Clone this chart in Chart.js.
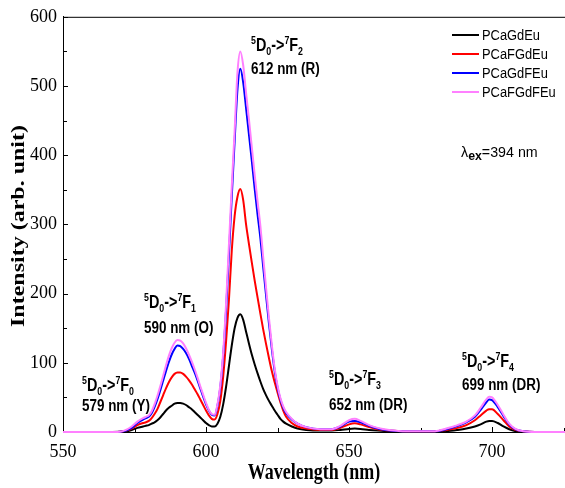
<!DOCTYPE html>
<html>
<head>
<meta charset="utf-8">
<script src="https://cdn.jsdelivr.net/npm/chart.js@4.4.1/dist/chart.umd.min.js"></script>
<style>
  html, body { margin: 0; padding: 0; background: #fff; }
</style>
</head>
<body>
<canvas id="spectrum" width="565" height="488"></canvas>
<script>
// Emission spectra (excitation 394 nm), intensity in arb. units
const wavelength = [
  550, 565, 570, 572, 574, 576, 578, 579, 580, 581,
  582, 583, 584, 585, 586, 587, 588, 589, 590, 591,
  592, 593, 594, 595, 596, 597, 598, 599, 600, 601,
  602, 603, 604, 605, 606, 607, 608, 609, 610, 611,
  612, 613, 614, 615, 616, 617, 618, 619, 620, 621,
  622, 623, 624, 625, 626, 627, 628, 630, 632, 635,
  640, 644, 647, 650, 652, 654, 657, 660, 664, 670,
  680, 684, 688, 691, 694, 696, 698, 699, 700, 702,
  704, 706, 708, 711, 715, 726
];
const pCaGdEu = [
  0, 0, 0.5, 1, 3, 6, 8, 9, 10, 12,
  14, 17, 21, 26, 31, 35, 38, 41, 42, 42,
  41, 39, 36, 33, 29, 25, 21, 17, 13, 10,
  8, 8, 12, 22, 40, 65, 95, 125, 150, 165,
  170, 162, 145, 128, 112, 98, 85, 73, 62, 53,
  45, 38, 31, 25, 19, 15, 12, 8, 5, 3,
  2, 2, 3, 4.5, 5, 4.5, 3, 2, 1, 0.5,
  0.5, 1, 3, 5, 8, 11, 15, 16, 16, 13,
  8, 4, 1.5, 0.5, 0, 0
];
const pCaFGdEu = [
  0, 0, 0.5, 2, 5, 10, 13, 14, 16, 20,
  26, 33, 43, 53, 63, 72, 79, 84, 86, 86,
  84, 80, 75, 69, 62, 55, 47, 39, 31, 24,
  19, 18, 26, 45, 80, 130, 190, 262, 312, 340,
  351, 335, 300, 272, 245, 219, 195, 171, 148, 127,
  107, 88, 72, 57, 43, 31, 22, 13, 8, 5,
  3, 3, 6, 11, 12.5, 11, 7, 4, 2, 1,
  1, 3, 6, 10, 17, 24, 31, 33, 33, 26,
  17, 8, 3, 1, 0, 0
];
const pCaGdFEu = [
  0, 0, 0.5, 2, 6, 13, 18, 20, 22, 27,
  36, 47, 60, 74, 88, 101, 112, 120, 125, 124,
  120, 114, 106, 96, 86, 75, 63, 51, 40, 31,
  25, 24, 38, 65, 110, 175, 255, 340, 420, 495,
  525, 505, 468, 430, 392, 352, 315, 280, 238, 197,
  157, 120, 88, 64, 47, 35, 27, 18, 12, 7,
  4, 4, 8, 15, 16, 14, 9, 5, 2, 1,
  1, 4, 9, 14, 22, 32, 43, 47, 46, 36,
  23, 11, 4, 1, 0, 0
];
const pCaFGdFEu = [
  0, 0, 0.5, 3, 8, 15, 20, 22, 24, 30,
  40, 52, 66, 81, 96, 110, 121, 129, 133, 132,
  128, 121, 112, 102, 91, 79, 66, 54, 42, 32,
  26, 25, 40, 68, 115, 185, 270, 355, 435, 520,
  550, 530, 490, 452, 412, 372, 334, 298, 252, 208,
  165, 126, 92, 67, 49, 37, 29, 19, 12, 7,
  4, 4, 9, 17, 19, 16, 10, 6, 3, 1,
  1, 5, 10, 15, 24, 35, 47, 51, 50, 39,
  25, 12, 5, 1, 0, 0
];
const sampleNames = ['PCaGdEu', 'PCaFGdEu', 'PCaGdFEu', 'PCaFGdFEu'];
const xTickValues = [550, 600, 650, 700];
const yTickValues = [0, 100, 200, 300, 400, 500, 600];

const colors = ['#000000', '#ff0000', '#0000ff', '#ff80ff'];
const seriesList = [pCaGdEu, pCaFGdEu, pCaGdFEu, pCaFGdFEu];

const SANS = '"Liberation Sans", Arial, sans-serif';
const SERIF = '"Liberation Serif", "Times New Roman", serif';

// draws a run of text pieces (sub/superscripts) squeezed horizontally
function drawRich(ctx, x, y, parts, squeeze) {
  ctx.save();
  ctx.translate(x, y);
  ctx.scale(squeeze, 1);
  ctx.textBaseline = 'alphabetic';
  ctx.textAlign = 'left';
  let cx = 0;
  for (const p of parts) {
    ctx.font = p.font;
    ctx.fillText(p.text, cx, p.dy || 0);
    cx += ctx.measureText(p.text).width;
  }
  ctx.restore();
}

const BIG = 'bold 18px ' + SANS;
const SMALL = 'bold 11px ' + SANS;
const LABEL = 'bold 16px ' + SANS;
const AXIS_TITLE = 'bold 24px ' + SERIF;

function term(j) {
  return [
    { text: '5', font: SMALL, dy: -7 },
    { text: 'D', font: BIG },
    { text: '0', font: SMALL, dy: 4 },
    { text: '->', font: BIG },
    { text: '7', font: SMALL, dy: -7 },
    { text: 'F', font: BIG },
    { text: j, font: SMALL, dy: 4 }
  ];
}

// transition labels: [x, baseline of term, baseline of wavelength line, J, text]
const transitions = [
  [82, 391, 411, '0', '579 nm (Y)'],
  [144, 308, 333, '1', '590 nm (O)'],
  [251, 51, 74, '2', '612 nm (R)'],
  [329, 385, 410, '3', '652 nm (DR)'],
  [462, 367, 390, '4', '699 nm (DR)']
];

const annotations = {
  id: 'annotations',
  afterDraw(chart) {
    const ctx = chart.ctx;
    const a = chart.chartArea;
    ctx.save();
    ctx.fillStyle = '#000';
    for (const [x, y1, y2, j, txt] of transitions) {
      drawRich(ctx, x, y1, term(j), 0.8);
      drawRich(ctx, x, y2, [{ text: txt, font: LABEL }], 0.84);
    }
    drawRich(ctx, 461, 157, [
      { text: 'λ', font: '15px ' + SANS },
      { text: 'ex', font: 'bold 13px ' + SANS, dy: 3 },
      { text: '=394 nm', font: '15px ' + SANS }
    ], 0.95);

    // axis titles, narrow serif
    ctx.font = AXIS_TITLE;
    ctx.textAlign = 'center';
    ctx.textBaseline = 'alphabetic';
    ctx.save();
    ctx.translate((a.left + a.right) / 2 + 0, 479);
    ctx.scale(0.75, 1);
    ctx.fillText('Wavelength (nm)', 0, 0);
    ctx.restore();
    ctx.save();
    ctx.translate(24, 226);
    ctx.rotate(-Math.PI / 2);
    ctx.scale(1, 0.75);
    ctx.fillText('Intensity (arb. unit)', 0, 0);
    ctx.restore();

    // legend
    const ly = [35, 54, 73, 92];
    sampleNames.forEach((name, i) => {
      ctx.strokeStyle = colors[i];
      ctx.lineWidth = 2;
      ctx.beginPath();
      ctx.moveTo(452, ly[i]);
      ctx.lineTo(479, ly[i]);
      ctx.stroke();
      ctx.fillStyle = '#000';
      drawRich(ctx, 482, ly[i] + 5, [{ text: name, font: '14px ' + SANS }], 0.92);
    });
    ctx.restore();
  }
};

// top frame line and inward tick marks
const frame = {
  id: 'frame',
  beforeDatasetsDraw(chart) {
    const { ctx, chartArea: a, scales: { x, y } } = chart;
    ctx.save();
    ctx.strokeStyle = '#000';
    ctx.lineWidth = 1;
    ctx.beginPath();
    ctx.moveTo(a.left, a.top + 0.5);
    ctx.lineTo(a.right, a.top + 0.5);
    x.ticks.forEach(t => {
      const px = Math.round(x.getPixelForValue(t.value)) + 0.5;
      ctx.moveTo(px, a.bottom);
      ctx.lineTo(px, a.bottom - 5);
      const pm = Math.round(x.getPixelForValue(t.value + 25)) + 0.5;
      if (pm < a.right) {
        ctx.moveTo(pm, a.bottom);
        ctx.lineTo(pm, a.bottom - 4);
      }
    });
    y.ticks.forEach(t => {
      const py = Math.round(y.getPixelForValue(t.value)) + 0.5;
      ctx.moveTo(a.left, py);
      ctx.lineTo(a.left + 5, py);
      if (t.value + 50 < 600) {
        const pm = Math.round(y.getPixelForValue(t.value + 50)) + 0.5;
        ctx.moveTo(a.left, pm);
        ctx.lineTo(a.left + 4, pm);
      }
    });
    ctx.stroke();
    ctx.restore();
  }
};

const datasets = seriesList.map((s, i) => ({
  label: sampleNames[i],
  data: wavelength.map((w, k) => ({ x: w, y: s[k] })),
  borderColor: colors[i],
  backgroundColor: colors[i],
  borderWidth: 2,
  pointRadius: 0,
  cubicInterpolationMode: 'monotone',
  order: seriesList.length - i,
  clip: { left: 0, top: 0, right: 0, bottom: 2 }
}));

new Chart(document.getElementById('spectrum'), {
  type: 'line',
  data: { datasets },
  options: {
    responsive: false,
    animation: false,
    layout: { padding: { top: 15, left: 0, right: 0, bottom: 0 } },
    plugins: { legend: { display: false }, tooltip: { enabled: false } },
    scales: {
      x: {
        type: 'linear',
        min: 550,
        max: 725.5,
        afterBuildTicks: s => { s.ticks = xTickValues.map(v => ({ value: v })); },
        afterFit: s => { s.height = 56; },
        grid: { display: false, drawTicks: false },
        border: { display: true, color: '#000', width: 1 },
        ticks: { color: '#000', padding: 9, font: { family: SERIF, size: 18 } }
      },
      y: {
        min: 0,
        max: 600,
        afterBuildTicks: s => { s.ticks = yTickValues.map(v => ({ value: v })); },
        afterFit: s => { s.width = 63; },
        grid: { display: false, drawTicks: false },
        border: { display: true, color: '#000', width: 1 },
        ticks: { color: '#000', padding: 6, font: { family: SERIF, size: 18 } }
      }
    }
  },
  plugins: [frame, annotations]
});
</script>
</body>
</html>
